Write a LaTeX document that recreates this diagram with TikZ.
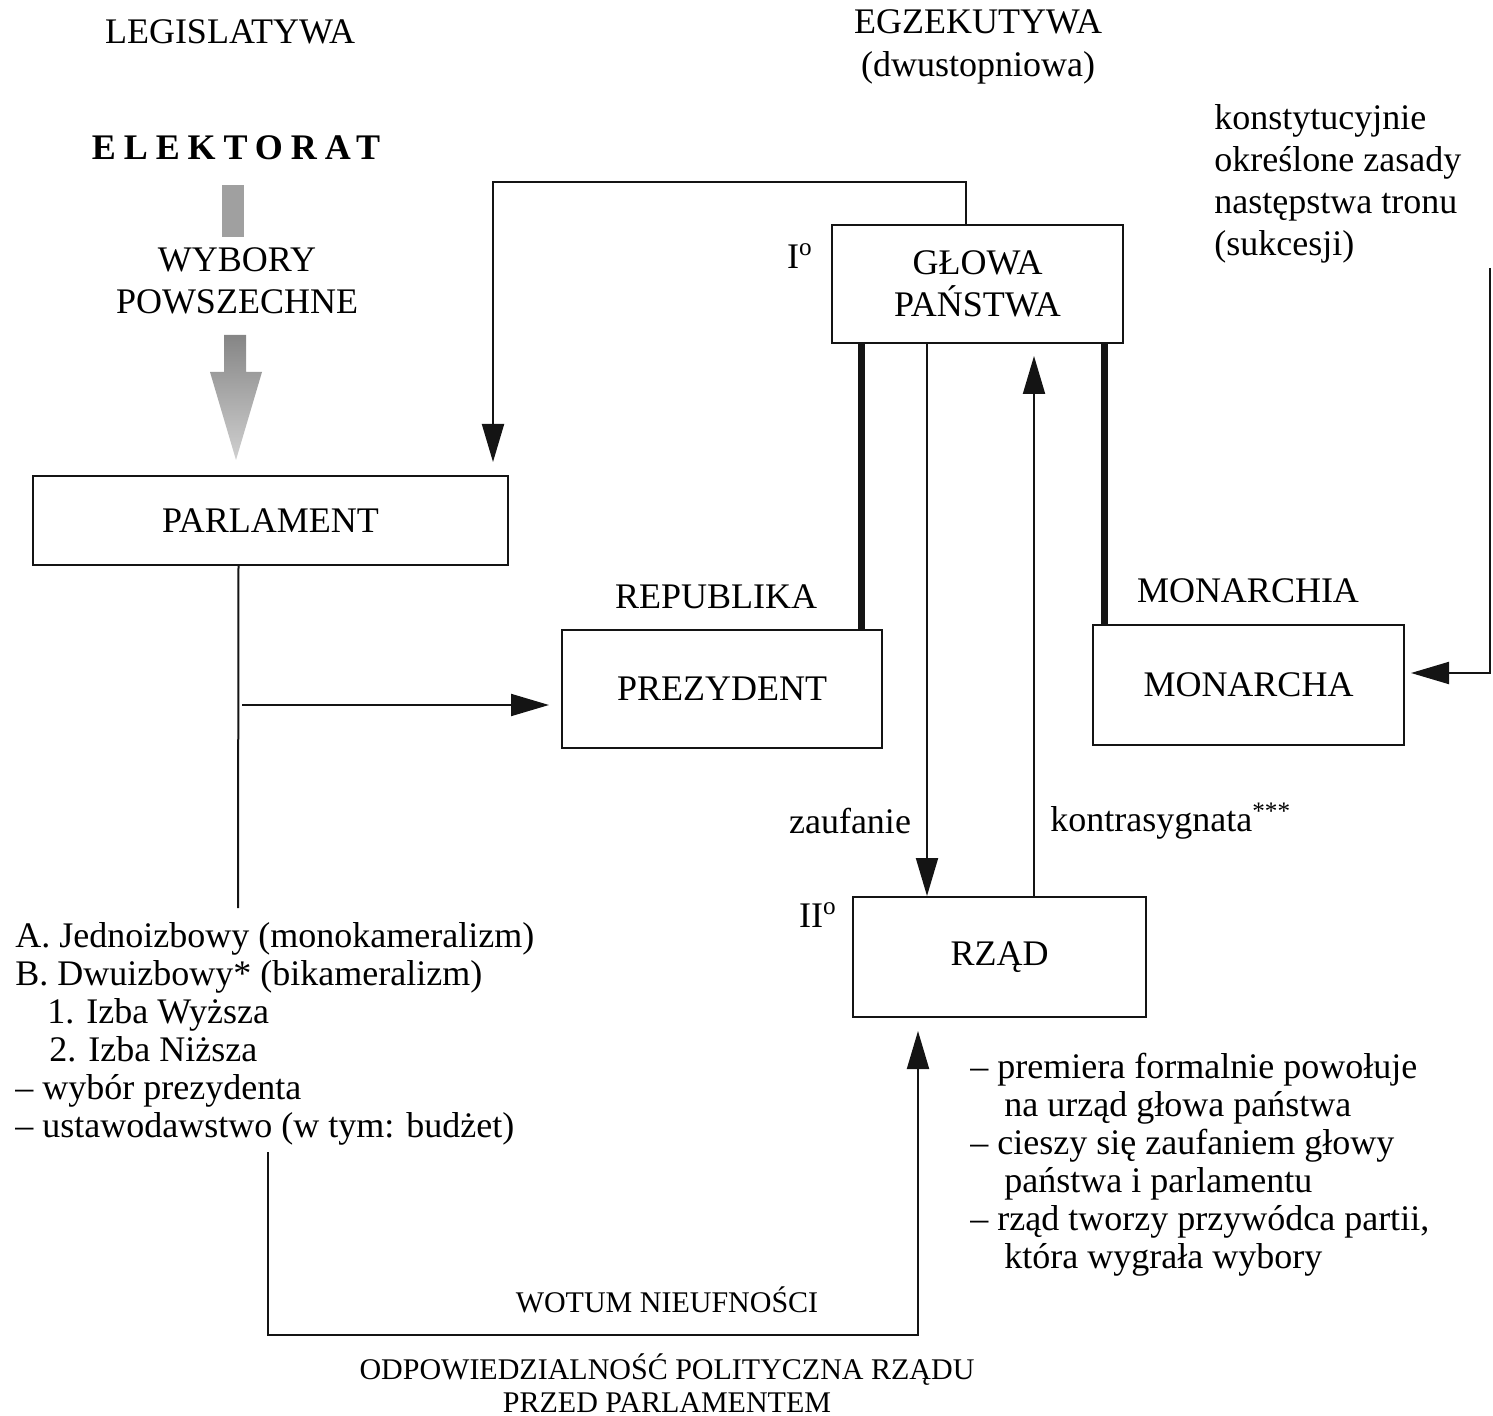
\documentclass[tikz,border=0pt]{standalone}
\usepackage{fontspec}
\setmainfont{Liberation Serif}
\usetikzlibrary{positioning,arrows.meta,calc}
\definecolor{sysBlack}{RGB}{20,20,20}
\definecolor{sysGray}{RGB}{120,120,120}

\tikzset{
  txt/.style={inner sep=0pt, font=\fontsize{18}{19}\selectfont},
  box/.style={draw=sysBlack, line width=1pt, inner sep=0pt, align=center,
    font=\fontsize{18}{21}\selectfont},
  thin/.style={draw=sysBlack, line width=1pt},
  arr/.style={thin, -{Triangle[length=19pt,width=11pt]}},
  bar/.style={draw=sysBlack, line width=3.5pt},
}

\begin{document}
\begin{tikzpicture}[x=0.5pt, y=-0.5pt]
  \useasboundingbox (0,0) rectangle (1493,1416);

  % headings
  \node[txt] (leg) at (230,32) {LEGISLATYWA};
  \node[txt] (egz) at (978,22) {EGZEKUTYWA};
  \node[txt] (dwu) at (978,68) {(dwustopniowa)};
  \node[txt, font=\fontsize{18}{21}\selectfont, align=left, anchor=north west]
    (konst) at (1214,104) {konstytucyjnie\\określone zasady\\następstwa tronu\\(sukcesji)};

  % electorate and elections
  \node[txt, font=\fontsize{18}{19}\selectfont\bfseries\addfontfeature{LetterSpace=22}]
    (elek) at (236,148) {ELEKTORAT};
  \fill[sysGray!70] (222,185) rectangle (244,237);
  \node[txt, align=center, font=\fontsize{18}{21}\selectfont] (wyb) at (237,281) {WYBORY\\POWSZECHNE};
  \shade[top color=sysGray!90, bottom color=sysGray!35]
    (224,335) -- (246,335) -- (246,372) -- (262,372) -- (236,460)
    -- (210,372) -- (224,372) -- cycle;

  % boxes
  \node[box, minimum width=237.5pt, minimum height=44.5pt] (parl) at (270.5,520.5) {PARLAMENT};
  \node[box, minimum width=145.5pt, minimum height=59pt] (glowa) at (977.5,284) {GŁOWA\\PAŃSTWA};
  \node[box, minimum width=160pt, minimum height=59pt] (prez) at (722,689) {PREZYDENT};
  \node[box, minimum width=155.5pt, minimum height=60pt] (mon) at (1248.5,685) {MONARCHA};
  \node[box, minimum width=146.5pt, minimum height=60pt] (rzad) at (999.5,957) {RZĄD};

  \node[txt] (rep) at (716,597) {REPUBLIKA};
  \node[txt] (monia) at (1248,591) {MONARCHIA};
  \node[txt] (st1) at (800,256) {I\textsuperscript{o}};
  \node[txt] (st2) at (818,915) {II\textsuperscript{o}};
  \node[txt] (zauf) at (850,821) {zaufanie};
  \node[txt, anchor=west] (kontr) at (1050,821) {kontrasygnata\textsuperscript{***}};

  % text lists
  \node[txt, align=left, anchor=north west] (legtxt) at (15,922)
    {A. Jednoizbowy (monokameralizm)\\
     B. Dwuizbowy* (bikameralizm)\\
     \hspace*{16pt}1. Izba Wyższa\\
     \hspace*{17pt}2. Izba Niższa\\
     -- wybór prezydenta\\
     -- ustawodawstwo (w tym: budżet)};
  \node[txt, align=left, anchor=north west] (rztxt) at (970,1053)
    {-- premiera formalnie powołuje\\
     \hspace*{17pt}na urząd głowa państwa\\
     -- cieszy się zaufaniem głowy\\
     \hspace*{17pt}państwa i parlamentu\\
     -- rząd tworzy przywódca partii,\\
     \hspace*{17pt}która wygrała wybory};
  \node[txt, font=\fontsize{15}{17}\selectfont] (wotum) at (667,1300) {WOTUM NIEUFNOŚCI};
  \node[txt, align=center, font=\fontsize{15}{16.5}\selectfont] (odp) at (667,1383)
    {ODPOWIEDZIALNOŚĆ POLITYCZNA RZĄDU\\PRZED PARLAMENTEM};

  % connectors
  \coordinate (gtop) at (493,182);
  \draw[arr, shorten >=6.5pt] ([xshift=-6pt]glowa.north) |- (gtop) -- (gtop |- parl.north);
  \coordinate (pdown) at (238,908);
  \draw[thin] ([xshift=-16pt]parl.south) -- (pdown);
  \coordinate (pbr) at (242,705);
  \draw[arr, shorten >=6pt] (pbr) -- (pbr -| prez.west);

  \draw[bar] ([xshift=15pt]glowa.south west) -- ([xshift=15pt]glowa.south west |- prez.north);
  \draw[bar] ([xshift=6pt]mon.north west) -- ([xshift=6pt]mon.north west |- glowa.south);

  \draw[arr] ([xshift=48pt]glowa.south west) -- ([xshift=48pt]glowa.south west |- rzad.north);
  \draw[arr, shorten >=6pt] ([xshift=101.5pt]glowa.south west |- rzad.north) -- ([xshift=101.5pt]glowa.south west);

  \coordinate (succ) at (1490,268);
  \draw[arr, shorten >=3pt] (succ) |- ([yshift=6pt]mon.east);

  \coordinate (wot) at (268,1152);
  \coordinate (wotR) at (918,1335);
  \draw[arr, shorten >=6.5pt] (wot) |- (wotR) -- (wotR |- rzad.south);
\end{tikzpicture}
\end{document}
